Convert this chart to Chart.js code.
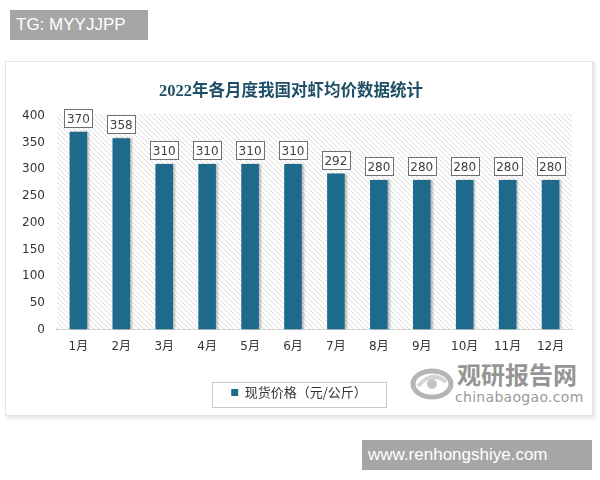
<!DOCTYPE html>
<html>
<head>
<meta charset="utf-8">
<script src="https://cdn.jsdelivr.net/npm/chart.js@4"></script>
<style>
  body { margin: 0; width: 600px; height: 480px; background: #fff; position: relative; overflow: hidden; font-family: "Liberation Sans", Arial, sans-serif; }
  .tag { position: absolute; background: #a6a6a6; color: #fff; font-size: 17px; line-height: 30px; padding: 0 6px; }
  #card { position: absolute; left: 5px; top: 61px; width: 586px; height: 353px; background: #fff;
          border: 1px solid #e4e4e4; box-shadow: 2px 2px 4px rgba(0,0,0,0.12); }
  #chart { position: absolute; left: 0; top: 0; }
  .logo { position: absolute; left: 410px; top: 359px; color: #9a9a9a; }
  .logo .cn { position: absolute; left: 47px; top: 0; font: bold 24px "Noto Sans CJK SC"; white-space: nowrap; line-height: 30px; color: #959595; }
  .logo .en { position: absolute; left: 45px; top: 30px; font: 14px "DejaVu Sans"; white-space: nowrap; letter-spacing: 0.3px; }
</style>
</head>
<body>
<div class="tag" style="left:10px;top:10px;width:126px;">TG: MYYJJPP</div>
<div id="card"></div>
<div class="logo">
  <svg width="44" height="40" style="position:absolute;left:0;top:5px">
    <ellipse cx="22" cy="20" rx="19" ry="13" fill="none" stroke="#b5b5b5" stroke-width="5"/>
    <path d="M8 22 Q22 6 36 18" fill="none" stroke="#d5d5d5" stroke-width="4"/>
    <circle cx="22" cy="20" r="5" fill="#c4c4c4"/>
  </svg>
  <div class="cn">观研报告网</div>
  <div class="en">chinabaogao.com</div>
</div>
<div class="tag" style="left:362px;top:440px;width:218px;">www.renhongshiye.com</div>
<canvas id="chart" width="600" height="480"></canvas>
<script>
const months = ["1月", "2月", "3月", "4月", "5月", "6月", "7月", "8月", "9月", "10月", "11月", "12月"];
const prices = [370, 358, 310, 310, 310, 310, 292, 280, 280, 280, 280, 280];
const yTicks = [0, 50, 100, 150, 200, 250, 300, 350, 400];
const seriesName = "现货价格（元/公斤）";
const chartTitle = "2022年各月度我国对虾均价数据统计";

// 斜线底纹
function makeHatch() {
    const c = document.createElement("canvas");
    c.width = 5; c.height = 5;
    const g = c.getContext("2d");
    g.fillStyle = "#ffffff";
    g.fillRect(0, 0, 5, 5);
    g.strokeStyle = "#dadada";
    g.lineWidth = 1;
    g.beginPath();
    g.moveTo(0, 0); g.lineTo(5, 5);
    g.moveTo(-1, 4); g.lineTo(1, 6);
    g.moveTo(4, -1); g.lineTo(6, 1);
    g.stroke();
    return g.createPattern(c, "repeat");
}

const hatchBg = {
    id: "hatchBg",
    beforeDatasetsDraw(chart) {
        const { ctx, chartArea: a } = chart;
        ctx.save();
        ctx.fillStyle = makeHatch();
        ctx.fillRect(a.left, a.top - 2, a.right - a.left, a.bottom - a.top + 2);
        ctx.restore();
    }
};

const barShadow = {
    id: "barShadow",
    beforeDatasetDraw(chart) {
        const ctx = chart.ctx;
        ctx.save();
        ctx.shadowColor = "rgba(0,0,0,0.25)";
        ctx.shadowOffsetX = 2;
        ctx.shadowOffsetY = 0;
        ctx.shadowBlur = 2;
    },
    afterDatasetDraw(chart) {
        chart.ctx.restore();
    }
};

const valueBoxes = {
    id: "valueBoxes",
    afterDatasetsDraw(chart) {
        const ctx = chart.ctx;
        const meta = chart.getDatasetMeta(0);
        ctx.save();
        ctx.font = "12px 'DejaVu Sans'";
        ctx.textAlign = "center";
        ctx.textBaseline = "middle";
        meta.data.forEach((bar, i) => {
            const w = 28, h = 18;
            const x = Math.round(bar.x - w / 2) + 0.5;
            const y = Math.round(bar.y - 5 - h) + 0.5;
            ctx.fillStyle = "#ffffff";
            ctx.fillRect(x, y, w, h);
            ctx.strokeStyle = "#707070";
            ctx.lineWidth = 1;
            ctx.strokeRect(x, y, w, h);
            ctx.fillStyle = "#404040";
            ctx.fillText(String(prices[i]), bar.x, y + h / 2 + 1);
        });
        ctx.restore();
    }
};

// 图例往右挪一点，并加边框
const legendBox = {
    id: "legendBox",
    afterLayout(chart) {
        chart.legend.left += 8;
        chart.legend.right += 8;
    },
    afterDraw(chart) {
        const lg = chart.legend;
        const ctx = chart.ctx;
        const cx = (lg.left + lg.right) / 2;
        const cy = lg.top + lg.options.labels.padding + 8;
        ctx.save();
        ctx.strokeStyle = "#c8c8c8";
        ctx.lineWidth = 1;
        ctx.strokeRect(Math.round(cx - 87) + 0.5, Math.round(cy - 12) + 0.5, 174, 25);
        ctx.restore();
    }
};

new Chart(document.getElementById("chart").getContext("2d"), {
    type: "bar",
    data: {
        labels: months,
        datasets: [{
            label: seriesName,
            data: prices,
            backgroundColor: "#1d6a8b",
            borderWidth: 0,
            categoryPercentage: 1,
            barPercentage: 0.41
        }]
    },
    options: {
        responsive: false,
        animation: false,
        layout: { padding: { top: 72, left: 10, right: 28, bottom: 71 } },
        plugins: {
            title: {
                display: true,
                text: chartTitle,
                color: "#1f4f66",
                font: { family: "'Liberation Serif', 'Noto Sans CJK SC'", size: 16.5, weight: "bold" },
                padding: { top: 10, bottom: 14 }
            },
            legend: {
                position: "bottom",
                labels: {
                    color: "#333",
                    font: { family: "'Noto Sans CJK SC'", size: 13 },
                    boxWidth: 7,
                    boxHeight: 7,
                    padding: 22
                }
            },
            tooltip: { enabled: false }
        },
        scales: {
            x: {
                grid: { display: false, drawTicks: false },
                border: { display: true, color: "#a0a0a0", width: 1 },
                ticks: { color: "#333", font: { family: "'DejaVu Sans', 'Noto Sans CJK SC'", size: 12 }, padding: 10 }
            },
            y: {
                min: 0,
                max: 400,
                afterBuildTicks(axis) { axis.ticks = yTicks.map(v => ({ value: v })); },
                grid: { display: false, drawTicks: false },
                border: { display: false },
                ticks: { color: "#333", font: { family: "'DejaVu Sans'", size: 12 }, padding: 12 }
            }
        }
    },
    plugins: [hatchBg, barShadow, valueBoxes, legendBox]
});
</script>
</body>
</html>
